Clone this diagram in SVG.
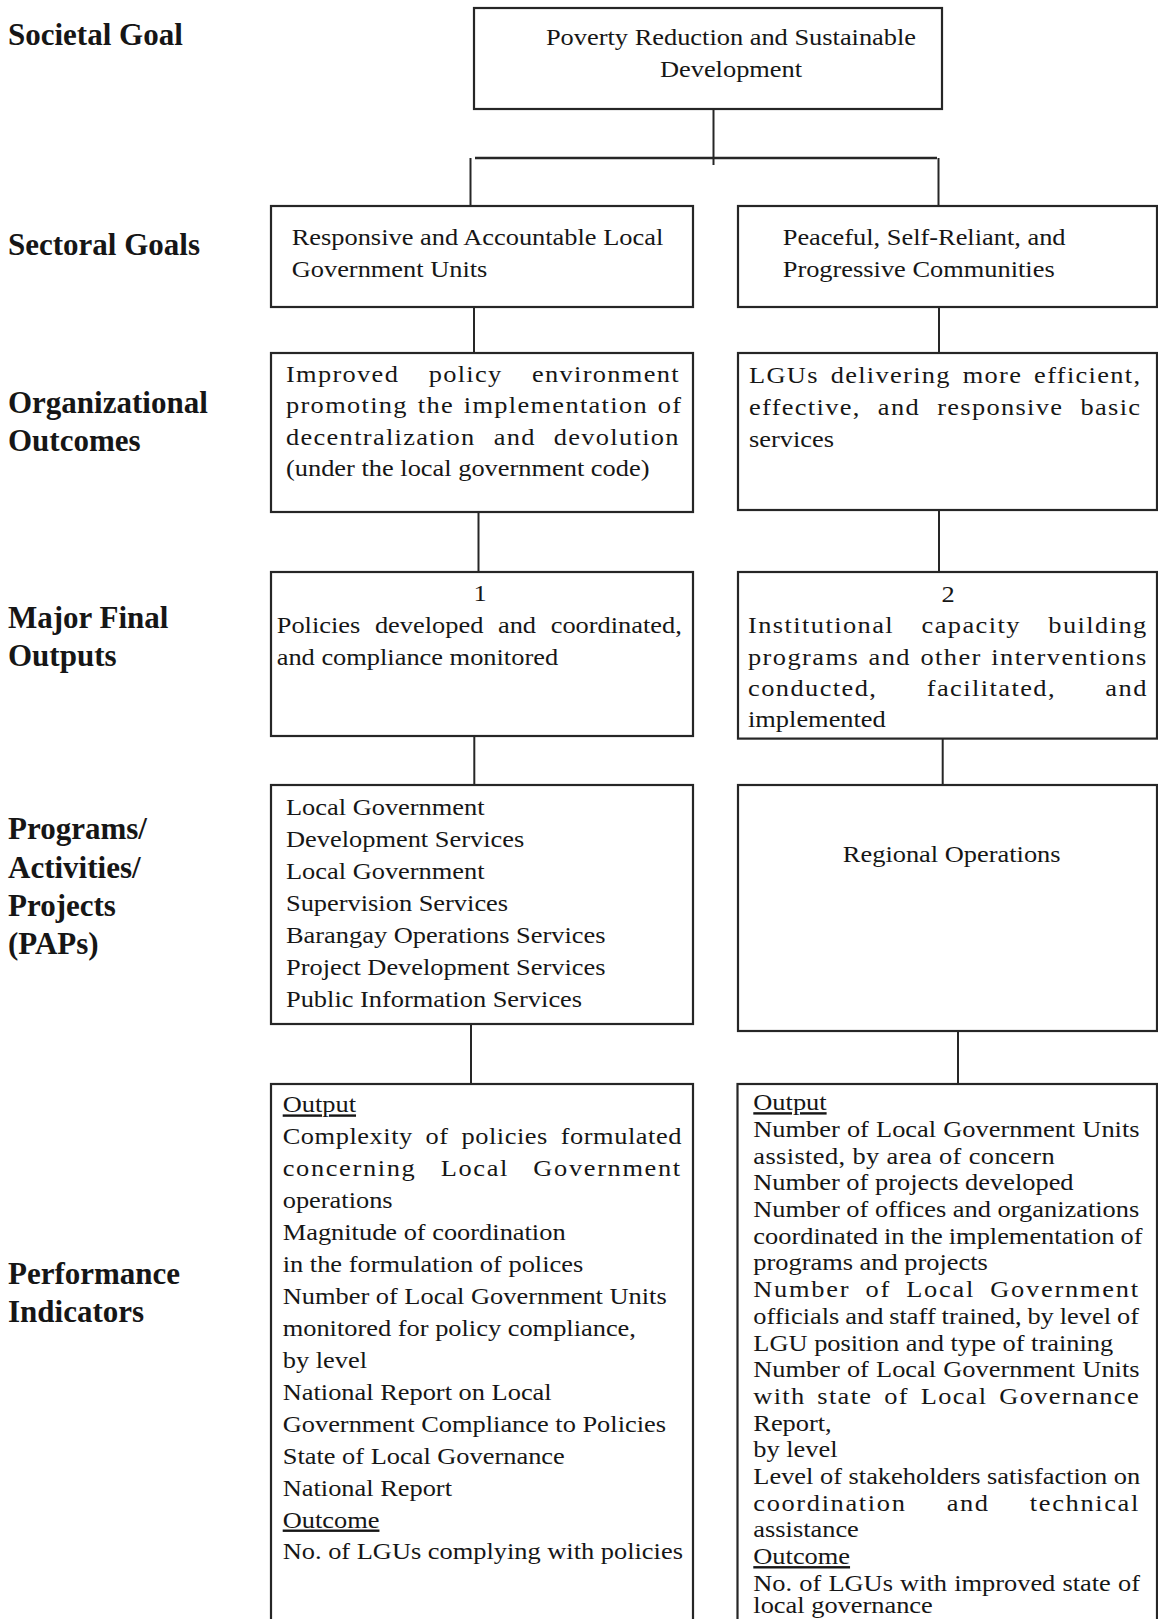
<svg xmlns="http://www.w3.org/2000/svg" width="1158" height="1619" viewBox="0 0 1158 1619">
<style>
.box{fill:#fff;stroke:#262626;stroke-width:2.2}
.conn line{stroke:#262626;stroke-width:2}
.t{font-family:"Liberation Serif","Times New Roman",serif;font-size:24px;fill:#161616}
.h{font-family:"Liberation Serif","Times New Roman",serif;font-size:31px;font-weight:bold;fill:#161616}
.u{text-decoration:underline}
.c{text-anchor:middle}
</style>
<rect width="1158" height="1619" fill="#fff"/>

<g id="connectors" class="conn">
<line x1="713.5" y1="108" x2="713.5" y2="165"/>
<line x1="475" y1="158" x2="937" y2="158" style="stroke-width:2.5"/>
<line x1="470.5" y1="158" x2="470.5" y2="206"/>
<line x1="938.5" y1="158" x2="938.5" y2="206"/>
<line x1="474" y1="307" x2="474" y2="353"/>
<line x1="939" y1="307" x2="939" y2="353"/>
<line x1="478.5" y1="512" x2="478.5" y2="572"/>
<line x1="939" y1="510" x2="939" y2="572"/>
<line x1="474.3" y1="736" x2="474.3" y2="785"/>
<line x1="942.7" y1="738.6" x2="942.7" y2="785"/>
<line x1="471" y1="1024" x2="471" y2="1084"/>
<line x1="958" y1="1031" x2="958" y2="1084"/>
</g>

<g id="labels">
<text class="h" x="8" y="45">Societal Goal</text>
<text class="h" x="8" y="255">Sectoral Goals</text>
<text class="h" x="8" y="412.7">Organizational</text>
<text class="h" x="8" y="450.7">Outcomes</text>
<text class="h" x="8" y="628.3">Major Final</text>
<text class="h" x="8" y="666">Outputs</text>
<text class="h" x="8" y="839.3">Programs/</text>
<text class="h" x="8" y="877.5">Activities/</text>
<text class="h" x="8" y="916">Projects</text>
<text class="h" x="8" y="954">(PAPs)</text>
<text class="h" x="8" y="1284">Performance</text>
<text class="h" x="8" y="1322">Indicators</text>
</g>

<g id="n-societal">
<rect class="box" x="474" y="8" width="468" height="101"/>
<g transform="translate(731 0) scale(1.1 1)">
<text class="t c" x="0" y="45.5">Poverty Reduction and Sustainable</text>
<text class="t c" x="0" y="77.5">Development</text>
</g>
</g>

<g id="n-sg1">
<rect class="box" x="271" y="206" width="422" height="101"/>
<g transform="translate(291.7 0) scale(1.1 1)">
<text class="t" x="0" y="245">Responsive and Accountable Local</text>
<text class="t" x="0" y="277">Government Units</text>
</g>
</g>

<g id="n-sg2">
<rect class="box" x="738" y="206" width="419" height="101"/>
<g transform="translate(782.7 0) scale(1.1 1)">
<text class="t" x="0" y="245">Peaceful, Self-Reliant, and</text>
<text class="t" x="0" y="277">Progressive Communities</text>
</g>
</g>

<g id="n-oo1">
<rect class="box" x="271" y="353" width="422" height="159"/>
<g transform="translate(286 0) scale(1.1 1)">
<text class="t" x="0" y="382" letter-spacing="1.2" word-spacing="19.6">Improved policy environment</text>
<text class="t" x="0" y="413.5" letter-spacing="1.2" word-spacing="1.8">promoting the implementation of</text>
<text class="t" x="0" y="445" letter-spacing="1.2" word-spacing="9.2">decentralization and devolution</text>
<text class="t" x="0" y="476.5">(under the local government code)</text>
</g>
</g>

<g id="n-oo2">
<rect class="box" x="738" y="353" width="419" height="157"/>
<g transform="translate(749 0) scale(1.1 1)">
<text class="t" x="0" y="383" letter-spacing="1.2" word-spacing="3.6">LGUs delivering more efficient,</text>
<text class="t" x="0" y="415" letter-spacing="1.2" word-spacing="8.5">effective, and responsive basic</text>
<text class="t" x="0" y="447">services</text>
</g>
</g>

<g id="n-mfo1">
<rect class="box" x="271" y="572" width="422" height="164"/>
<g transform="translate(276.7 0) scale(1.1 1)">
<text class="t c" x="184.8" y="601.5">1</text>
<text class="t" x="0" y="633.5" word-spacing="7.3">Policies developed and coordinated,</text>
<text class="t" x="0" y="665.5">and compliance monitored</text>
</g>
</g>

<g id="n-mfo2">
<rect class="box" x="738" y="572" width="419" height="166.6"/>
<g transform="translate(748 0) scale(1.1 1)">
<text class="t c" x="181.8" y="602">2</text>
<text class="t" x="0" y="633" letter-spacing="1.3" word-spacing="17.6">Institutional capacity building</text>
<text class="t" x="0" y="664.5" letter-spacing="1.3" word-spacing="1.3">programs and other interventions</text>
<text class="t" x="0" y="696" letter-spacing="1.3" word-spacing="37.6">conducted, facilitated, and</text>
<text class="t" x="0" y="727.5">implemented</text>
</g>
</g>

<g id="n-pap1">
<rect class="box" x="271" y="785" width="422" height="239"/>
<g transform="translate(286 0) scale(1.1 1)">
<text class="t" x="0" y="815.5">Local Government</text>
<text class="t" x="0" y="847.4">Development Services</text>
<text class="t" x="0" y="879.2">Local Government</text>
<text class="t" x="0" y="911.1">Supervision Services</text>
<text class="t" x="0" y="942.9">Barangay Operations Services</text>
<text class="t" x="0" y="974.8">Project Development Services</text>
<text class="t" x="0" y="1006.6">Public Information Services</text>
</g>
</g>

<g id="n-pap2">
<rect class="box" x="738" y="785" width="419" height="246"/>
<g transform="translate(951.7 0) scale(1.1 1)">
<text class="t c" x="0" y="862">Regional Operations</text>
</g>
</g>

<g id="n-pi1">
<rect class="box" x="271" y="1084" width="422" height="560"/>
<g transform="translate(282.7 0) scale(1.1 1)">
<text class="t u" x="0" y="1112.5">Output</text>
<text class="t" x="0" y="1144.4" letter-spacing="0.5" word-spacing="5.1">Complexity of policies formulated</text>
<text class="t" x="0" y="1176.4" letter-spacing="1.5" word-spacing="14.6">concerning Local Government</text>
<text class="t" x="0" y="1208.3">operations</text>
<text class="t" x="0" y="1240.2">Magnitude of coordination</text>
<text class="t" x="0" y="1272.2">in the formulation of polices</text>
<text class="t" x="0" y="1304.1">Number of Local Government Units</text>
<text class="t" x="0" y="1336">monitored for policy compliance,</text>
<text class="t" x="0" y="1367.9">by level</text>
<text class="t" x="0" y="1399.9">National Report on Local</text>
<text class="t" x="0" y="1431.8">Government Compliance to Policies</text>
<text class="t" x="0" y="1463.7">State of Local Governance</text>
<text class="t" x="0" y="1495.7">National Report</text>
<text class="t u" x="0" y="1527.6">Outcome</text>
<text class="t" x="0" y="1559.5">No. of LGUs complying with policies</text>
</g>
</g>

<g id="n-pi2">
<rect class="box" x="737.5" y="1084" width="419.5" height="560"/>
<g transform="translate(753.3 0) scale(1.1 1)">
<text class="t u" x="0" y="1110.3">Output</text>
<text class="t" x="0" y="1137" word-spacing="0.5">Number of Local Government Units</text>
<text class="t" x="0" y="1163.7" letter-spacing="0.35">assisted, by area of concern</text>
<text class="t" x="0" y="1190.4">Number of projects developed</text>
<text class="t" x="0" y="1217.1">Number of offices and organizations</text>
<text class="t" x="0" y="1243.8" word-spacing="-0.5">coordinated in the implementation of</text>
<text class="t" x="0" y="1270.5">programs and projects</text>
<text class="t" x="0" y="1297.2" letter-spacing="1.6" word-spacing="6.2">Number of Local Government</text>
<text class="t" x="0" y="1323.9" word-spacing="-0.6">officials and staff trained, by level of</text>
<text class="t" x="0" y="1350.6">LGU position and type of training</text>
<text class="t" x="0" y="1377.3" word-spacing="0.5">Number of Local Government Units</text>
<text class="t" x="0" y="1404" letter-spacing="1.2" word-spacing="3.6">with state of Local Governance</text>
<text class="t" x="0" y="1430.7">Report,</text>
<text class="t" x="0" y="1457.4">by level</text>
<text class="t" x="0" y="1484.1">Level of stakeholders satisfaction on</text>
<text class="t" x="0" y="1510.8" letter-spacing="1.5" word-spacing="29">coordination and technical</text>
<text class="t" x="0" y="1537.5">assistance</text>
<text class="t u" x="0" y="1564.2">Outcome</text>
<text class="t" x="0" y="1590.9" word-spacing="0.5">No. of LGUs with improved state of</text>
<text class="t" x="0" y="1613.5">local governance</text>
</g>
</g>
</svg>
